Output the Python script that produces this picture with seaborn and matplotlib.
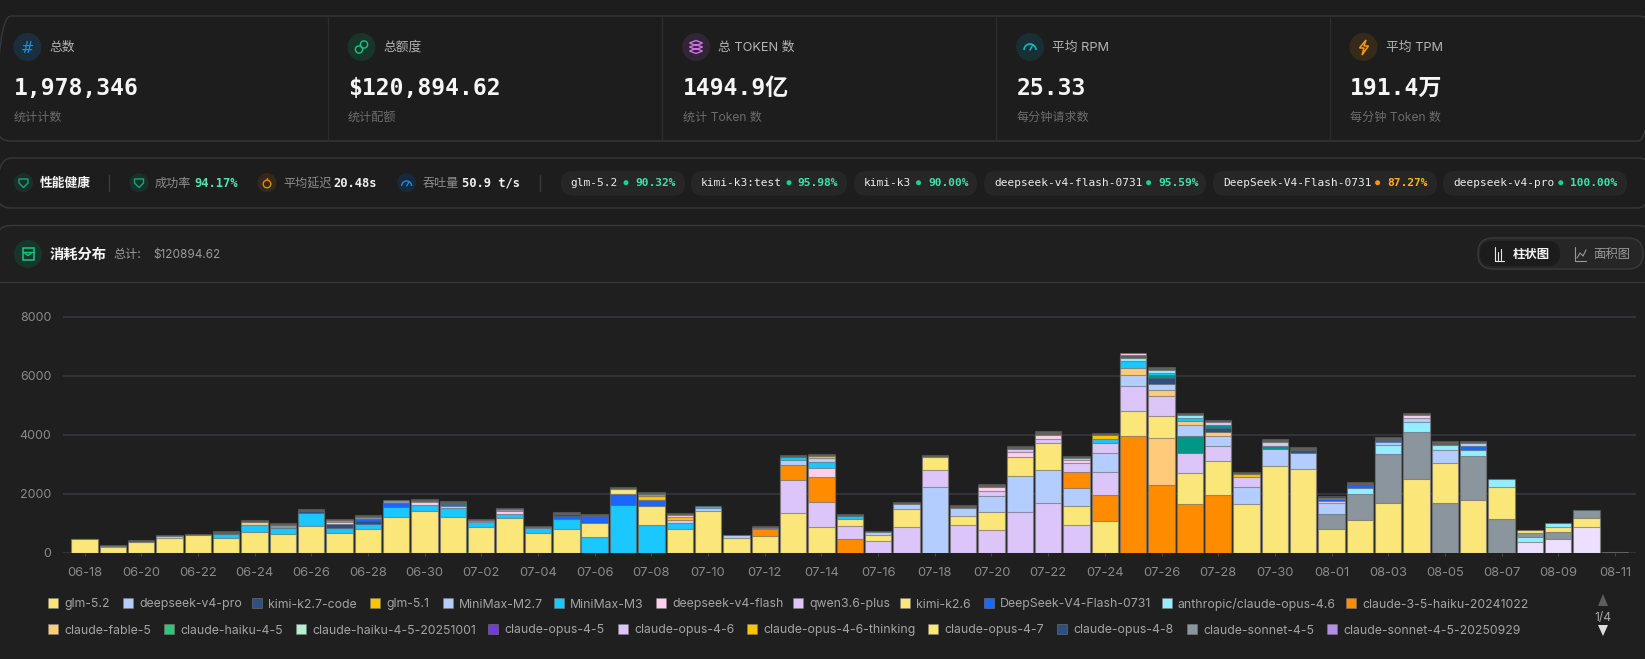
import numpy as np
import pandas as pd
import matplotlib
matplotlib.use("Agg")
import matplotlib.pyplot as plt
import seaborn as sns
from matplotlib.patches import Circle, FancyBboxPatch, Polygon, Rectangle, Arc

days = ["06-18", "06-19", "06-20", "06-21", "06-22", "06-23", "06-24", "06-25", "06-26", "06-27", "06-28",
        "06-29", "06-30", "07-01", "07-02", "07-03", "07-04", "07-05", "07-06", "07-07", "07-08", "07-09",
        "07-10", "07-11", "07-12", "07-13", "07-14", "07-15", "07-16", "07-17", "07-18", "07-19", "07-20",
        "07-21", "07-22", "07-23", "07-24", "07-25", "07-26", "07-27", "07-28", "07-29", "07-30", "07-31",
        "08-01", "08-02", "08-03", "08-04", "08-05", "08-06", "08-07", "08-08", "08-09", "08-10", "08-11"]

# values per model, one entry per day
glm_52 = [454, 205, 363, 488, 590, 510, 714, 634, 906, 657, 815, 1199, 1414, 1210, 883, 1188, 680, 804, 486, 170,
          667, 793, 1414, 510, 555, 1335, 883, 259, 215, 588, 463, 317, 632, 644, 904, 640, 1086, 836, 757, 1062,
          1141, 1640, 2951, 2827, 815, 1120, 1685, 2499, 1356, 1787, 1096, 102, 192, 328, 0]
minimax_m3 = [0, 0, 0, 0, 0, 135, 237, 215, 452, 192, 158, 351, 215, 306, 147, 136, 146, 328, 533, 1606,
              928, 226, 67, 0, 0, 125, 214, 91, 0, 0, 0, 0, 0, 0, 0, 0, 150, 226, 90, 102,
              0, 0, 0, 0, 0, 0, 0, 0, 0, 0, 0, 0, 0, 0, 0]
qwen_plus = [0, 0, 0, 0, 0, 0, 0, 0, 0, 0, 0, 0, 0, 68, 0, 0, 0, 0, 0, 0,
             0, 101, 0, 0, 0, 1119, 847, 441, 397, 883, 554, 928, 759, 1391, 1674, 928, 768, 836, 655, 678,
             508, 339, 113, 0, 0, 0, 0, 0, 0, 0, 0, 0, 0, 0, 0]
deepseek_pro = [0, 35, 0, 70, 0, 0, 0, 0, 0, 0, 0, 0, 0, 0, 0, 0, 0, 0, 0, 0,
                0, 0, 91, 78, 50, 158, 136, 0, 101, 180, 2239, 282, 520, 1221, 1130, 637, 644, 384, 200, 373,
                362, 599, 565, 553, 373, 0, 100, 158, 441, 0, 0, 0, 0, 0, 0]
opus_46 = [0, 0, 0, 0, 0, 0, 0, 0, 0, 0, 0, 0, 0, 0, 0, 0, 0, 0, 0, 0,
           0, 0, 0, 0, 0, 0, 0, 0, 0, 0, 0, 0, 170, 102, 147, 294, 339, 0, 0, 0,
           90, 0, 0, 0, 0, 0, 0, 0, 0, 0, 0, 0, 0, 0, 0]
minimax_m27 = [0, 0, 0, 0, 0, 0, 0, 0, 0, 0, 0, 0, 0, 0, 0, 0, 0, 0, 0, 0,
               0, 0, 0, 0, 0, 0, 0, 0, 0, 0, 0, 0, 0, 0, 0, 80, 0, 0, 0, 0,
               0, 0, 0, 0, 0, 0, 0, 0, 0, 100, 0, 0, 0, 0, 0]
flash = [0, 0, 0, 0, 0, 0, 0, 0, 0, 70, 0, 0, 80, 0, 40, 79, 0, 0, 0, 0,
         0, 80, 0, 0, 0, 0, 317, 0, 0, 0, 0, 0, 135, 158, 147, 100, 0, 78, 0, 0,
         0, 0, 0, 0, 70, 0, 0, 80, 0, 0, 0, 0, 0, 0, 0]
flash_0731 = [0, 0, 0, 0, 0, 0, 0, 0, 0, 0, 70, 135, 0, 60, 0, 0, 0, 113, 226, 384,
              192, 0, 0, 0, 0, 0, 0, 0, 0, 0, 0, 0, 0, 0, 0, 0, 0, 0, 0, 0,
              0, 0, 0, 0, 60, 95, 95, 0, 0, 147, 0, 0, 0, 0, 0]
opus_anthropic = [0, 0, 0, 0, 0, 0, 0, 0, 0, 0, 0, 0, 0, 0, 0, 0, 0, 0, 0, 0,
                  0, 0, 0, 0, 0, 0, 0, 0, 0, 0, 0, 0, 0, 0, 0, 0, 0, 113, 88, 80,
                  0, 0, 0, 0, 0, 215, 294, 328, 192, 192, 260, 169, 113, 0, 0]
haiku_35 = [0, 0, 0, 0, 0, 0, 0, 0, 0, 0, 0, 0, 0, 0, 0, 0, 0, 0, 0, 0,
            0, 0, 0, 0, 249, 519, 825, 454, 0, 0, 0, 0, 0, 0, 0, 531, 871, 3968, 2295, 1640,
            1957, 0, 0, 0, 0, 0, 0, 0, 0, 0, 0, 0, 0, 0, 0]
fable_5 = [0, 0, 0, 0, 0, 0, 85, 0, 0, 0, 0, 0, 0, 0, 0, 0, 0, 0, 0, 0,
           0, 0, 0, 0, 0, 0, 0, 0, 0, 0, 0, 0, 0, 0, 0, 0, 0, 249, 1594, 135,
           135, 0, 0, 0, 0, 0, 0, 0, 0, 0, 0, 0, 0, 0, 0]
fable_extra = [0, 0, 0, 0, 0, 0, 0, 0, 0, 0, 0, 0, 0, 0, 0, 0, 0, 0, 0, 0,
               0, 0, 0, 0, 0, 0, 0, 0, 0, 0, 0, 0, 0, 0, 0, 0, 0, 0, 226, 0,
               0, 0, 0, 0, 0, 0, 0, 0, 0, 0, 0, 0, 0, 0, 0]
k27_code = [0, 0, 0, 0, 0, 0, 50, 0, 62, 124, 113, 0, 0, 0, 0, 0, 0, 70, 0, 0,
            0, 0, 0, 0, 0, 0, 0, 0, 0, 0, 0, 0, 0, 0, 0, 0, 0, 0, 196, 0,
            114, 0, 0, 100, 59, 0, 0, 0, 0, 0, 0, 0, 0, 0, 0]
glm_51 = [0, 0, 0, 0, 0, 0, 0, 0, 0, 0, 0, 0, 0, 0, 0, 0, 0, 0, 0, 0,
          136, 90, 0, 0, 0, 0, 60, 0, 0, 0, 0, 0, 0, 0, 0, 0, 120, 0, 0, 0,
          0, 80, 0, 0, 60, 0, 0, 0, 0, 0, 0, 0, 0, 0, 0]
sonnet_45 = [0, 0, 0, 0, 0, 0, 0, 91, 0, 65, 65, 102, 60, 0, 40, 67, 50, 0, 0, 0,
             77, 0, 0, 0, 0, 0, 0, 0, 0, 0, 0, 0, 0, 0, 0, 0, 0, 0, 0, 0,
             0, 0, 0, 0, 486, 870, 1661, 1593, 1674, 1503, 1143, 147, 226, 249, 25]
page2_teal = [0, 0, 0, 0, 0, 0, 0, 0, 0, 0, 0, 0, 0, 55, 0, 0, 0, 0, 0, 0,
              0, 0, 0, 0, 0, 0, 0, 0, 0, 0, 0, 0, 0, 0, 0, 0, 0, 0, 92, 588,
              112, 0, 114, 0, 0, 0, 0, 0, 0, 0, 0, 0, 0, 0, 0]
page2_lilac = [0, 0, 0, 0, 0, 0, 0, 0, 0, 0, 0, 0, 0, 0, 0, 0, 0, 0, 0, 0,
               0, 0, 0, 0, 0, 0, 0, 0, 0, 0, 0, 0, 0, 0, 0, 0, 0, 0, 0, 0,
               0, 0, 0, 0, 0, 0, 0, 0, 0, 0, 0, 352, 465, 860, 0]
page3_small = [21, 20, 57, 32, 30, 91, 24, 56, 50, 46, 57, 0, 41, 43, 33, 46, 30, 65, 56, 68,
               58, 56, 0, 0, 40, 56, 50, 56, 23, 79, 56, 79, 102, 102, 124, 70, 92, 80, 85, 67,
               80, 67, 101, 92, 0, 86, 93, 78, 113, 47, 0, 0, 0, 0, 0]

model_values = {"glm-5.2": glm_52, "MiniMax-M3": minimax_m3, "qwen3.6-plus": qwen_plus,
                "deepseek-v4-pro": deepseek_pro, "claude-opus-4-6": opus_46, "MiniMax-M2.7": minimax_m27,
                "deepseek-v4-flash": flash, "DeepSeek-V4-Flash-0731": flash_0731,
                "anthropic/claude-opus-4.6": opus_anthropic, "claude-3-5-haiku-20241022": haiku_35,
                "claude-fable-5": fable_5, "fable-extra": fable_extra, "kimi-k2.7-code": k27_code,
                "glm-5.1": glm_51, "claude-sonnet-4-5": sonnet_45, "teal": page2_teal,
                "lilac": page2_lilac, "small": page3_small}
model_colors = {"glm-5.2": "#fbe67a", "MiniMax-M3": "#1ac7ff", "qwen3.6-plus": "#dcc5f8",
                "deepseek-v4-pro": "#b3cefe", "claude-opus-4-6": "#dcc5f8", "MiniMax-M2.7": "#b3cefe",
                "deepseek-v4-flash": "#ffcfec", "DeepSeek-V4-Flash-0731": "#1a66ff",
                "anthropic/claude-opus-4.6": "#93efff", "claude-3-5-haiku-20241022": "#ff8c00",
                "claude-fable-5": "#ffcb7a", "fable-extra": "#ffcb7a", "kimi-k2.7-code": "#2f4f80",
                "glm-5.1": "#ffc300", "claude-sonnet-4-5": "#8a959e", "teal": "#009688",
                "lilac": "#ecdfff", "small": "#5e6258"}

legend_row1 = [("glm-5.2", "#fbe67a", 48), ("deepseek-v4-pro", "#b3cefe", 123), ("kimi-k2.7-code", "#2f4f80", 252),
               ("glm-5.1", "#ffc300", 370), ("MiniMax-M2.7", "#b3cefe", 443), ("MiniMax-M3", "#1ac7ff", 554),
               ("deepseek-v4-flash", "#ffcfec", 656), ("qwen3.6-plus", "#dcc5f8", 793), ("kimi-k2.6", "#fbe67a", 900),
               ("DeepSeek-V4-Flash-0731", "#1a66ff", 984), ("anthropic/claude-opus-4.6", "#93efff", 1162),
               ("claude-3-5-haiku-20241022", "#ff8c00", 1346)]
legend_row2 = [("claude-fable-5", "#ffcb7a", 48), ("claude-haiku-4-5", "#2fc57a", 164),
               ("claude-haiku-4-5-20251001", "#b5edd0", 296), ("claude-opus-4-5", "#6e3fd8", 488),
               ("claude-opus-4-6", "#dcc5f8", 618), ("claude-opus-4-6-thinking", "#ffc300", 747),
               ("claude-opus-4-7", "#fbe67a", 928), ("claude-opus-4-8", "#2f4f80", 1057),
               ("claude-sonnet-4-5", "#8a959e", 1187), ("claude-sonnet-4-5-20250929", "#b08fe8", 1327)]

BG = "#1d1d1d"
sns.set_theme(style="dark", rc={"figure.facecolor": BG, "axes.facecolor": "none", "savefig.facecolor": BG})
plt.rcParams["font.family"] = ["Inter", "Noto Sans CJK SC", "DejaVu Sans"]
MONO = ["DejaVu Sans Mono", "Noto Sans CJK SC"]
SANS = ["Inter", "Noto Sans CJK SC", "DejaVu Sans"]

W, H = 1645, 659
fig = plt.figure(figsize=(W / 100, H / 100), dpi=100)

# the whole dashboard chrome is drawn in pixel coordinates on this axes
ui = fig.add_axes([0, 0, 1, 1])
ui.set_xlim(0, W)
ui.set_ylim(H, 0)
ui.axis("off")


def txt(x, y, s, size=9, color="#aaaaaa", family=SANS, weight="normal", ha="left"):
    ui.text(x, y, s, fontsize=size, color=color, family=family, weight=weight, ha=ha, va="center_baseline")


def card(x, y, w, h, fc="none", ec="#383838", r=14, lw=1.0):
    ui.add_patch(FancyBboxPatch((x, y), w, h, boxstyle=f"round,pad=0,rounding_size={r}", fc=fc, ec=ec, lw=lw))


def badge(x, y, r, color):
    ui.add_patch(Circle((x, y), r, fc=color, ec="none"))


card(-3, 16, W + 10, 125)
card(-3, 158, W + 10, 50)
card(-3, 225.5, W + 10, 480, fc="#1f1f1f")
ui.plot([0, W], [281.7, 281.7], color="#353535", lw=1)

# top stat cards
for x in [327.5, 662, 995.6, 1329.6]:
    ui.plot([x, x], [17, 140], color="#2c2c2c", lw=1)

stat_cards = [(14, "总数", "1,978,346", "统计计数", "#1a2e3c"), (348, "总额度", "$120,894.62", "统计配额", "#18352b"),
              (682.6, "总 TOKEN 数", "1494.9亿", "统计 Token 数", "#2f2636"),
              (1016.6, "平均 RPM", "25.33", "每分钟请求数", "#183033"),
              (1350, "平均 TPM", "191.4万", "每分钟 Token 数", "#362b19")]
for x, title, value, sub, tint in stat_cards:
    badge(x + 13.5, 47, 14, tint)
    txt(x + 35.5, 46, title, 9.2, "#b4b4b4")
    txt(x, 86, value, 16.6, "#f5f5f5", MONO, "bold")
    txt(x, 116, sub, 8.7, "#6c6c6c")

# card icons
txt(27.5, 47, "#", 11.5, "#1a8fe0", ["DejaVu Sans"], ha="center")
for dx, dy in [(-2.5, 2.5), (2.5, -2.5)]:
    ui.add_patch(Circle((361.5 + dx, 47 + dy), 3.6, fc="none", ec="#16c784", lw=1.0))
for dy in [-4, 0, 4]:
    ui.add_patch(Polygon([(689.5, 47 + dy), (696, 44.5 + dy), (702.5, 47 + dy), (696, 49.5 + dy)], closed=True,
                         fc="none", ec="#d070e8", lw=1.0))
ui.add_patch(Arc((1030, 50), 12, 12, theta1=180, theta2=360, ec="#14b8c4", lw=1.2))
ui.plot([1030, 1032.5], [50, 45.5], color="#14b8c4", lw=1.1)
ui.add_patch(Polygon([(1366, 40), (1359.5, 48), (1364, 48), (1362, 55), (1368.5, 46), (1364, 46)], closed=True,
                     fc="none", ec="#f59a0b", lw=1.1))

# health row
H_Y = 182.7
badge(23.5, H_Y, 9.5, "#1a2f29")
badge(139, H_Y, 9.5, "#1a2f29")
badge(267, H_Y, 9.5, "#33291a")
badge(406.6, H_Y, 9.5, "#17293a")
txt(40, H_Y, "性能健康", 9.2, "#f5f5f5", weight="bold")
ui.plot([108.7, 108.7], [175, 191], color="#3a3a3a", lw=1)
ui.plot([540, 540], [175, 191], color="#3a3a3a", lw=1)
for x in [23.5, 139]:
    ui.add_patch(Polygon([(x - 4.5, 179), (x + 4.5, 179), (x + 4.5, 183), (x, 187.5), (x - 4.5, 183)], closed=True,
                         fc="none", ec="#16a673", lw=1.0))
ui.add_patch(Circle((267, 184), 3.8, fc="none", ec="#e08a0c", lw=1.0))
ui.plot([267, 267], [177.5, 180], color="#e08a0c", lw=1.0)
ui.add_patch(Arc((406.6, 186), 10, 10, theta1=180, theta2=360, ec="#1a8fe0", lw=1.0))
ui.plot([406.6, 408.6], [186, 182.5], color="#1a8fe0", lw=0.9)
txt(154.6, H_Y, "成功率", 8.7, "#8d8d8d")
txt(194, H_Y - 0.7, "94.17%", 8.7, "#4fe3ae", MONO, "bold")
txt(283.7, H_Y, "平均延迟", 8.7, "#8d8d8d")
txt(333, H_Y - 0.7, "20.48s", 8.7, "#f0f0f0", MONO, "bold")
txt(423, H_Y, "吞吐量", 8.7, "#8d8d8d")
txt(461.7, H_Y - 0.7, "50.9 t/s", 8.7, "#f0f0f0", MONO, "bold")

pills = [(561, 685, 570, 626, 635, "glm-5.2", "90.32%", "#16d39a"),
         (691, 847, 701, 789, 797, "kimi-k3:test", "95.98%", "#16d39a"),
         (854, 977, 864, 918.5, 928, "kimi-k3", "90.00%", "#16d39a"),
         (984, 1206, 994, 1148.6, 1158, "deepseek-v4-flash-0731", "95.59%", "#16d39a"),
         (1213, 1437, 1223.5, 1377.6, 1387, "DeepSeek-V4-Flash-0731", "87.27%", "#f59a0b"),
         (1443, 1627, 1453, 1560.8, 1570, "deepseek-v4-pro", "100.00%", "#16d39a")]
for x0, x1, tx, dot, px, name, pct, c in pills:
    card(x0, 171, x1 - x0, 24.7, fc="#262626", ec="none", r=12)
    txt(tx, 182, name, 8.0, "#ededed", MONO)
    ui.add_patch(Circle((dot, 182.7), 2.5, fc=c, ec="none"))
    txt(px, 182, pct, 8.1, "#ffb020" if c == "#f59a0b" else "#3fe0a8", MONO, "bold")

# chart header
badge(28, 254, 14, "#18352b")
ui.add_patch(Rectangle((22.5, 248), 11, 12, fc="none", ec="#16c784", lw=1.1))
ui.plot([22.5, 33.5], [251.5, 251.5], color="#16c784", lw=1.0)
ui.plot([25, 28, 31], [253.5, 255.5, 253.5], color="#16c784", lw=1.0)
txt(50, 253, "消耗分布", 10.3, "#f5f5f5", weight="bold")
txt(113, 253.5, "总计:", 8.7, "#9a9a9a")
txt(153, 253.5, "$120894.62", 8.5, "#9a9a9a")
card(1478, 238, 165, 31, fc="#262626", ec="#3a3a3a", r=15)
card(1480, 241, 80, 25, fc="#1c1c1c", ec="none", r=12)
ui.plot([1495, 1495, 1504], [247, 261, 261], color="#e8e8e8", lw=0.8)
ui.plot([1498, 1498], [252, 260], color="#e8e8e8", lw=0.8)
ui.plot([1501, 1501], [249, 260], color="#e8e8e8", lw=0.8)
txt(1513, 253.5, "柱状图", 8.9, "#f5f5f5", weight="bold")
ui.plot([1575, 1575, 1586], [247, 261, 261], color="#9a9a9a", lw=0.8)
ui.plot([1577, 1580, 1583, 1586], [258, 253, 256, 250], color="#9a9a9a", lw=0.8)
txt(1593, 253.5, "面积图", 8.9, "#9a9a9a")

# chart axes: y=0 sits at 552.7 px, 8000 at 316.7 px
y0_px, per_val = 552.7, 236 / 8000
ymax = 8200
ax_l, ax_r = 63, 1636
ax = fig.add_axes([ax_l / W, 1 - y0_px / H, (ax_r - ax_l) / W, ymax * per_val / H])

df = pd.DataFrame(model_values, index=days).rename_axis("day").reset_index()
df = df.melt(id_vars="day", var_name="model", value_name="cost")
df = df[df["cost"] > 0].copy()
df["model"] = pd.Categorical(df["model"], categories=list(model_values))
df["day"] = pd.Categorical(df["day"], categories=days)
# each day stacks its biggest model first
df = df.sort_values(["day", "cost"], ascending=[True, False], kind="stable")
df["top"] = df.groupby("day", observed=True)["cost"].cumsum()
df["rank"] = df.groupby("day", observed=True).cumcount()

for r in sorted(df["rank"].unique(), reverse=True):
    sns.barplot(data=df[df["rank"] == r], x="day", y="top", hue="model", order=days,
                hue_order=list(model_values), palette=model_colors, dodge=False, width=0.93, saturation=1,
                edgecolor=(0.38, 0.38, 0.38, 0.6), linewidth=0.8, legend=False, ax=ax)

step = (1615 - 84.5) / 54
ax.set_xlim(-(84.5 - ax_l) / step, (ax_r - 84.5) / step)
ax.set_ylim(0, ymax)
ax.set_yticks([0, 2000, 4000, 6000, 8000])
ax.set_xticks(range(0, len(days), 2))
ax.set_xticklabels(days[::2])
ax.set_xlabel("")
ax.set_ylabel("")
ax.set_axisbelow(True)
ax.grid(axis="y", color="#333338", lw=1.4)
ax.grid(axis="x", visible=False)
ax.tick_params(axis="y", length=0, pad=8.5, labelsize=9.0, labelcolor="#8a8a8a")
ax.tick_params(axis="x", length=2.5, width=0.8, color="#454545", pad=8, labelsize=9.3, labelcolor="#8a8a8a", bottom=True)
sns.despine(ax=ax, left=True, right=True, top=True, bottom=True)

# legend row under the chart
for row, y in [(legend_row1, 603), (legend_row2, 629)]:
    for name, color, x in row:
        ui.add_patch(Rectangle((x, y - 5), 10, 10, fc=color, ec=(0.5, 0.5, 0.5, 0.5), lw=0.7))
        txt(x + 16, y, name, 8.85, "#a4a4a4")
ui.add_patch(Polygon([(1598, 606), (1608, 606), (1603, 594)], closed=True, fc="#5e5e5e", ec="none"))
txt(1603, 616, "1/4", 8.7, "#a8a8a8", ha="center")
ui.add_patch(Polygon([(1598, 625), (1608, 625), (1603, 636)], closed=True, fc="#dddddd", ec="none"))

fig.savefig("out.png", dpi=100)
